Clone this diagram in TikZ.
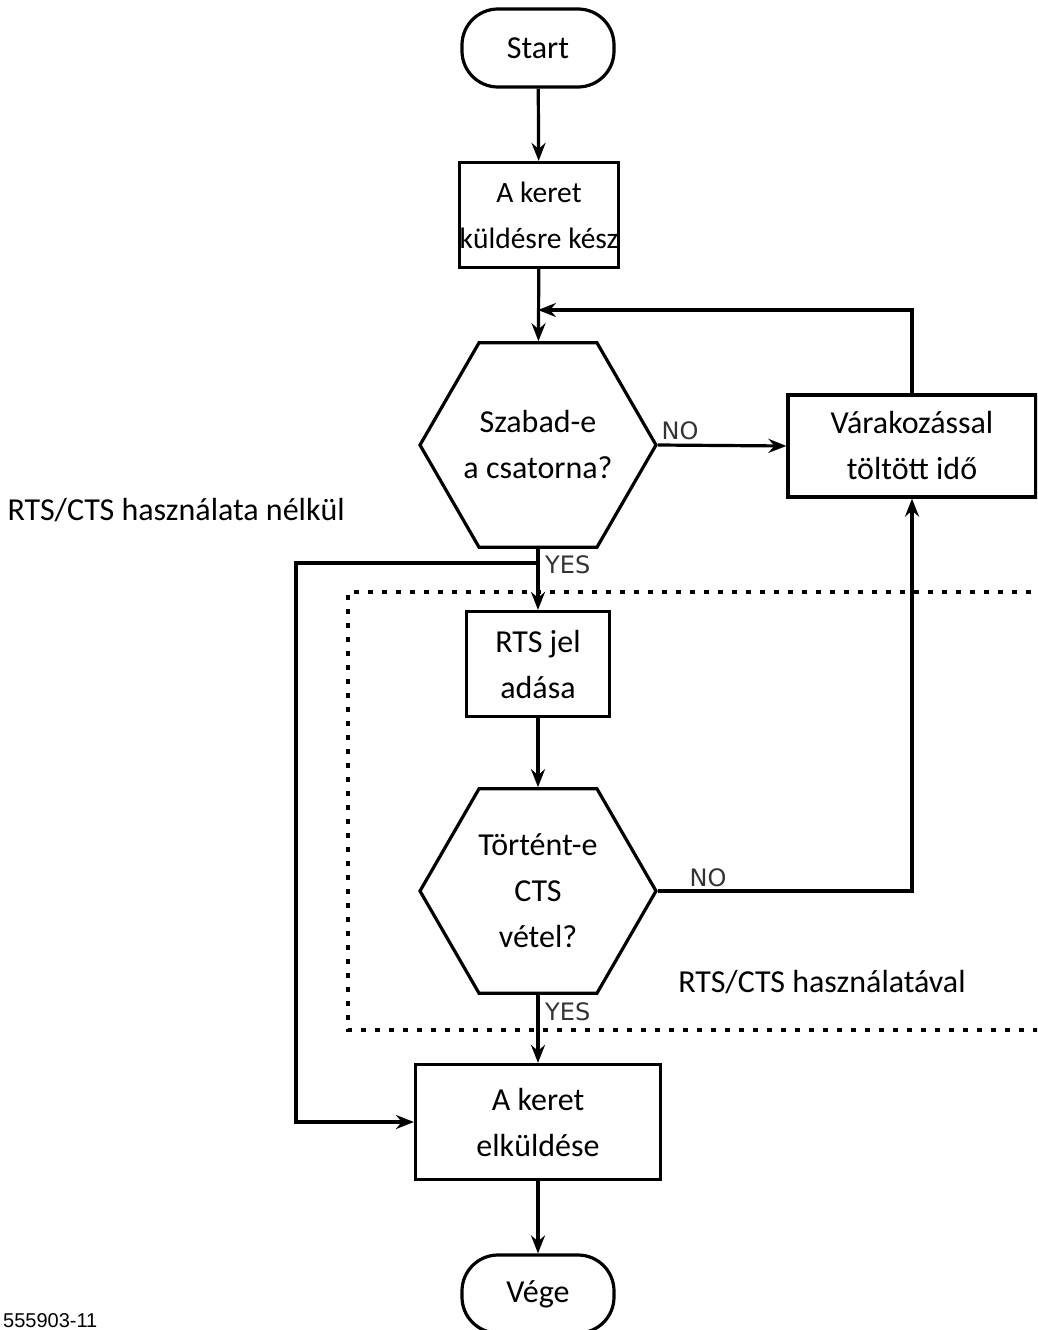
\documentclass[tikz,border=0pt]{standalone}
\usepackage{fontspec}
\setmainfont{Carlito}
\newfontfamily\answerfont{DejaVu Sans}
\newfontfamily\codefont{Liberation Sans}
\usetikzlibrary{shapes.geometric,arrows.meta,positioning}
\tikzstyle{every node}=[font=\fontsize{32}{46}\selectfont,align=center]
\tikzstyle{terminal}=[draw,line width=3.2pt,rounded corners=36pt,minimum width=152pt,minimum height=78pt]
\tikzstyle{process}=[draw,line width=3.2pt,inner sep=2pt,minimum width=143pt,minimum height=105pt]
\tikzstyle{decision}=[draw,line width=3.2pt,regular polygon,regular polygon sides=6,minimum size=236pt,inner sep=0pt]
\tikzstyle{arr}=[line width=3.2pt,-{Stealth[length=18pt,width=14pt,inset=6pt]}]
\tikzstyle{answer}=[font=\answerfont\fontsize{24}{26}\selectfont,text=black!80,inner sep=0pt]
\tikzstyle{dotbox}=[line width=3.8pt,dash pattern=on 5pt off 9pt]

\begin{document}
\begin{tikzpicture}[x=1pt,y=-1pt]
          \useasboundingbox (0,0) rectangle (1037,1330);
          \clip (0,0) rectangle (1037,1330);
          \node[terminal] (start) at (538,48) {Start};
          \node[process,inner sep=0pt,minimum width=145pt,font=\fontsize{29.5}{46}\selectfont] (ready) at (539,215) {A keret\\küldésre kész};
          \node[decision,label={center:Szabad-e\\a csatorna?}] (free) at (538,445) {};
          \node[process,minimum width=248pt,minimum height=102pt] (wait) at (912,446) {Várakozással\\töltött idő};
          \node[process] (rts) at (538,664) {RTS jel\\adása};
          \node[decision,label={center:Történt-e\\CTS\\vétel?}] (cts) at (538,891) {};
          \node[process,minimum width=245pt,minimum height=115pt] (send) at (538,1122) {A keret\\elküldése};
          \node[terminal] (stop) at (538,1294) {Vége};
          \node[anchor=west] (without) at (4,510) {RTS/CTS használata nélkül};
          \node (with) at (822,982) {RTS/CTS használatával};
          \node[anchor=south west,inner sep=0pt,font=\codefont\fontsize{20}{22}\selectfont] (code) at (3,1328) {555903-11};
          \coordinate (merge) at (538,310);
          \coordinate (split) at (538,563);
          % dotted frame of the RTS/CTS part
          \draw[dotbox] (1045,592) -- (348,592) -- (348,1030) -- (1045,1030);
          \draw[arr] (start) -- (ready);
          \draw[arr] (ready) -- (free);
          \draw[arr] (free.east) -- (wait.west);
          \node[answer] (no1) at (680,431) {NO};
          \draw[arr] (wait.north) |- (merge);
          \draw[arr] (free.south) -- (rts);
          \node[answer,anchor=west] (yes1) at (545,565) {YES};
          \draw[arr] (split) -- (296,563) |- (send.west);
          \draw[arr] (rts) -- (cts);
          \draw[arr] (cts.east) -| (wait.south);
          \node[answer] (no2) at (708,878) {NO};
          \draw[arr] (cts.south) -- (send);
          \node[answer,anchor=west] (yes2) at (545,1012) {YES};
          \draw[arr] (send) -- (stop);
\end{tikzpicture}
\end{document}
